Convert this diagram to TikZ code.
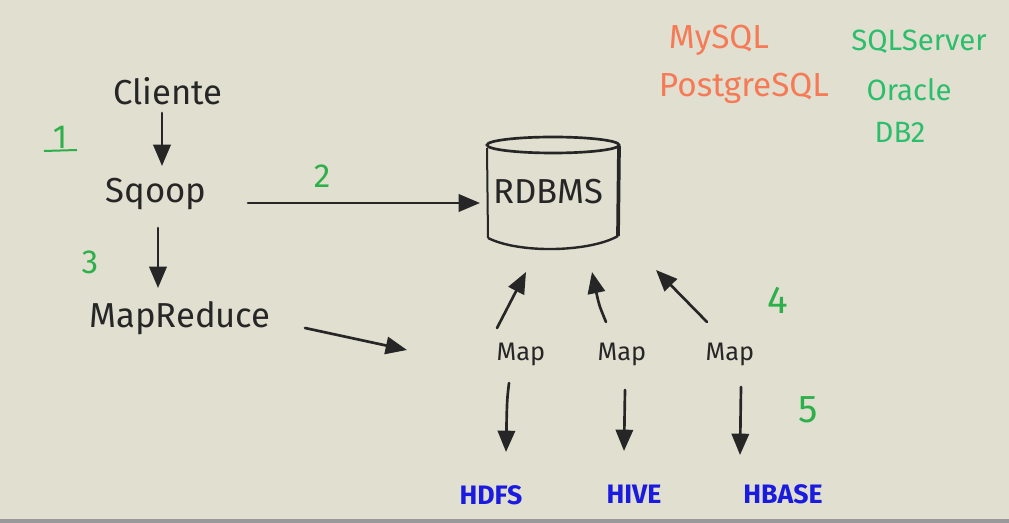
\documentclass[tikz,border=0pt]{standalone}
\usepackage{fontspec}
\setmainfont{Fira Sans}
\usetikzlibrary{arrows.meta}
\definecolor{paper}{HTML}{E0DFD0}
\definecolor{ink}{HTML}{262626}
\definecolor{numgreen}{HTML}{2DAF4A}
\definecolor{dbgreen}{HTML}{2CBE6C}
\definecolor{dborange}{HTML}{F57A55}
\definecolor{tblue}{HTML}{1B1BDF}
\tikzset{
  lbl/.style={font=\fontsize{26}{30}\selectfont, text=ink, inner sep=1pt},
  maplbl/.style={font=\fontsize{19}{22}\selectfont, text=ink, inner sep=1pt},
  num/.style={font=\fontsize{25}{28}\selectfont, text=numgreen, inner sep=1pt},
  bignum/.style={font=\fontsize{29}{32}\selectfont, text=numgreen, inner sep=1pt},
  dbo/.style={font=\fontsize{25}{28}\selectfont, text=dborange, inner sep=1pt},
  dbg/.style={font=\fontsize{22}{24}\selectfont, text=dbgreen, inner sep=1pt},
  store/.style={font=\fontsize{20}{24}\selectfont\bfseries, text=tblue, inner sep=1pt},
  arr/.style={draw=ink, line width=2pt, line cap=round, -{Triangle[length=16pt,width=13pt]}},
}
\begin{document}
\begin{tikzpicture}[x=0.75pt,y=-0.75pt]
\useasboundingbox (0,0) rectangle (1009,523);
\fill[paper] (0,0) rectangle (1009,523);
\fill[black!40] (0,519) rectangle (1009,523);

% main flow
\node[lbl] (cliente) at (168,91) {Cliente};
\node[lbl] (sqoop) at (156,194) {Sqoop};
\node[lbl] (mr) at (180,318) {MapReduce};

% RDBMS cylinder
\draw[ink, line width=2pt] (553,145) ellipse [x radius=66, y radius=8];
\draw[ink, line width=1.5pt] (487,148) -- (488,238);
\draw[ink, line width=2.8pt] (619,146) -- (618,236);
\draw[ink, line width=1.8pt] (488,238) .. controls (520,254) and (590,252) .. (618,236);
\node[lbl] (rdbms) at (548,192) {RDBMS};
\coordinate (rdbL) at (480,203);
\coordinate (rdbB1) at (526,272);
\coordinate (rdbB2) at (592,272);
\coordinate (rdbB3) at (656,270);

% Maps
\node[maplbl] (m1) at (521,354) {Map};
\node[maplbl] (m2) at (622,354) {Map};
\node[maplbl] (m3) at (730,354) {Map};
\coordinate (mrin) at (407,350);

% stores
\node[store] (hdfs) at (491,495) {HDFS};
\node[store] (hive) at (634,494) {HIVE};
\node[store] (hbase) at (783,494) {HBASE};

% arrows
\draw[arr] (162,113) -- (162,166);
\draw[arr] (248,203) -- (rdbL);
\draw[arr] (158,228) -- (158,288);
\draw[arr] (305,328) -- (mrin);
\draw[arr] (497,328) -- (rdbB1);
\draw[arr] (606,322) .. controls (599,305) .. (rdbB2);
\draw[arr] (707,322) -- (rdbB3);
\draw[arr] (509,383) .. controls (507,400) .. (506,452);
\draw[arr] (625,390) -- (624,451);
\draw[arr] (741,387) -- (740,455);

% numbers
\node[num] (n1) at (60,137) {1};
\draw[numgreen, line width=1.5pt] (44,151) -- (77,150);
\node[num] (n2) at (322,176) {2};
\node[num] (n3) at (90,262) {3};
\node[bignum] (n4) at (778,300) {4};
\node[bignum] (n5) at (808,410) {5};

% databases
\node[dbo] (mysql) at (719,40) {MySQL};
\node[dbo] (pg) at (744,88) {PostgreSQL};
\node[dbg] (sqlserver) at (919,42) {SQLServer};
\node[dbg] (oracle) at (909,90) {Oracle};
\node[dbg] (db2) at (900,132) {DB2};
\end{tikzpicture}
\end{document}
